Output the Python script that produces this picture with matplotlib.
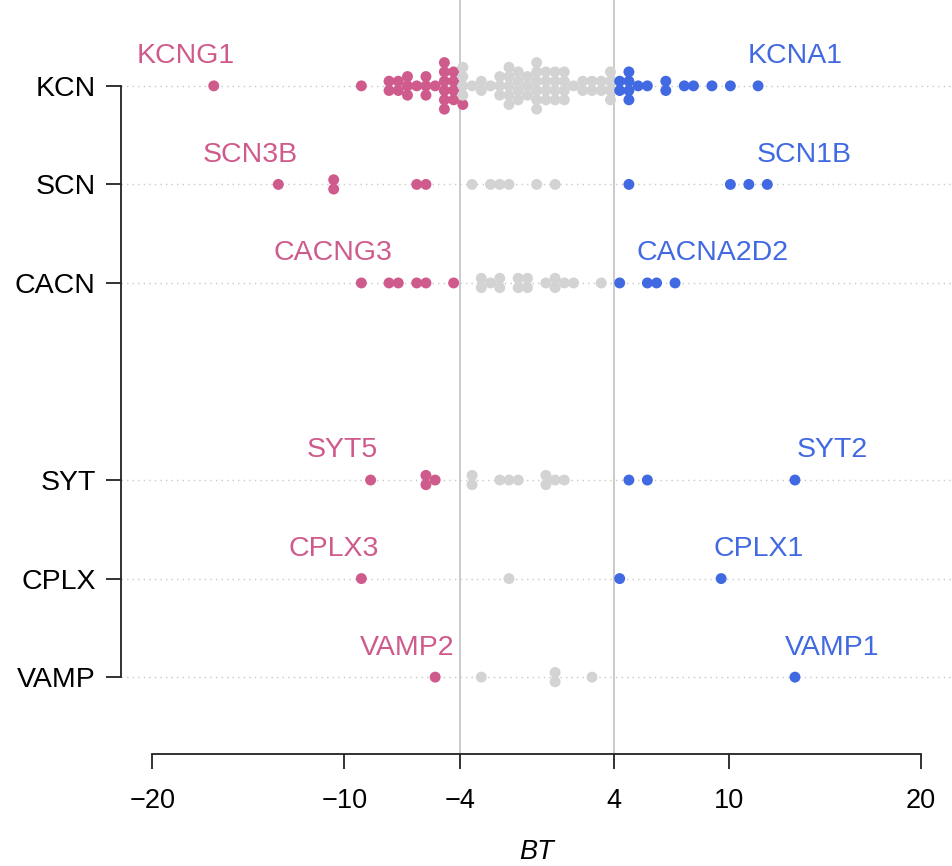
import numpy as np
import matplotlib
matplotlib.use("Agg")
import matplotlib.pyplot as plt
import matplotlib.transforms as mtrans

plt.rcParams['font.family'] = ['Liberation Sans', 'DejaVu Sans']

# ---------------- data ----------------
families = ["KCN", "SCN", "CACN", "SYT", "CPLX", "VAMP"]
family_pos = [6, 5, 4, 2, 1, 0]

kcn_bt = ([-16.86, -9.22, -7.71, -7.71, -7.27, -7.27, -6.75, -6.75, -6.75, -6.27,
           -5.80, -5.80, -5.80, -5.37, -4.85, -4.85, -4.85, -4.85, -4.85, -4.85,
           -4.38, -4.38, -4.38, -4.38, -4.05]
          + [-3.89, -3.89, -3.89, -3.89, -3.46, -2.94, -2.94, -2.45, -1.99, -1.99, -1.99,
             -1.47, -1.47, -1.47, -1.47, -1.47, -1.03, -1.03, -1.03, -1.03,
             -0.51, -0.51, -0.51, -0.04, -0.04, -0.04, -0.04, -0.04, -0.04,
             0.44, 0.44, 0.44, 0.44, 0.87, 0.87, 0.87, 0.87, 1.40, 1.40, 1.40, 1.40,
             1.86, 2.35, 2.35, 2.82, 2.82, 3.30, 3.30, 3.75, 3.75, 3.75, 3.75]
          + [4.31, 4.31, 4.78, 4.78, 4.78, 4.78, 5.30, 5.73, 6.68, 6.68, 7.55, 8.07,
             9.08, 10.03, 11.45])
scn_bt = [-13.48, -10.62, -10.62, -6.28, -5.80, -3.41, -2.45, -1.99, -1.50, -0.04, 0.91,
          4.78, 10.03, 10.98, 11.94]
cacn_bt = [-9.18, -7.74, -7.27, -6.30, -5.84, -4.40,
           -2.94, -2.94, -2.46, -1.99, -1.99, -1.03, -1.03, -0.56, -0.56,
           0.44, 0.87, 0.87, 1.40, 1.86, 3.30,
           4.31, 5.73, 6.20, 7.15]
syt_bt = [-8.71, -5.80, -5.80, -5.33, -3.42, -3.42, -1.99, -1.52, -1.03,
          0.41, 0.41, 0.91, 1.40, 4.78, 5.73, 13.39]
cplx_bt = [-9.18, -1.50, 4.27, 9.54]
vamp_bt = [-5.33, -2.94, 0.91, 0.91, 2.82, 13.36]

family_values = [kcn_bt, scn_bt, cacn_bt, syt_bt, cplx_bt, vamp_bt]
low_labels = ["KCNG1", "SCN3B", "CACNG3", "SYT5", "CPLX3", "VAMP2"]
high_labels = ["KCNA1", "SCN1B", "CACNA2D2", "SYT2", "CPLX1", "VAMP1"]

threshold = 4
x_ticks = [-20, -10, -4, 4, 10, 20]

# ---------------- style ----------------
PINK = "#CF5B8C"
BLUE = "#4169E1"
GREY = "#D3D3D3"
BIN_W = 0.48     # x bin width (dot diameter in x units)
STEP_H = 0.0945  # vertical stacking step (dot diameter in y units)

fig = plt.figure(figsize=(9.52, 8.66), dpi=100)
ax = fig.add_axes([121.5 / 952, 112 / 866, 830.3 / 952, 745 / 866])
ax.set_xlim(-21.6, 21.6)
ax.set_ylim(-0.78, 6.78)

vtrans = mtrans.blended_transform_factory(ax.transData, ax.transAxes)
for xv in (-threshold, threshold):
    ax.plot([xv, xv], [0, 1.015], transform=vtrans, color="#BDBDBD", lw=1.1,
            zorder=1, clip_on=False)

for yv in family_pos:
    ax.plot([-21.6, 21.6], [yv, yv], ls=(0, (1, 3)), color="#C8C8C8", lw=1.0,
            zorder=1)


def center_swarm(values):
    vals = np.sort(np.asarray(values, dtype=float))
    bins = np.round(vals / BIN_W).astype(int)
    xs, offs = [], []
    for b in np.unique(bins):
        members = vals[bins == b]
        n = len(members)
        for i in range(n):
            xs.append(b * BIN_W)
            offs.append((i - (n - 1) / 2) * STEP_H)
    return vals, np.array(xs), np.array(offs)


for vals, yp, lo, hi in zip(family_values, family_pos, low_labels, high_labels):
    v, xs, offs = center_swarm(vals)
    cols = np.where(v < -threshold, PINK, np.where(v > threshold, BLUE, GREY))
    ax.scatter(xs, yp + offs, s=62, c=cols, edgecolors="none", zorder=3)
    ax.text(v.min() - 1.4, yp + 0.30, lo, color=PINK, fontsize=20.5,
            ha="center", va="center")
    ax.text(v.max() + 2.0, yp + 0.30, hi, color=BLUE, fontsize=20.5,
            ha="center", va="center")

for s in ("top", "right"):
    ax.spines[s].set_visible(False)
ax.spines["left"].set_bounds(0, 6)
ax.spines["bottom"].set_bounds(-20, 20)
for s in ("left", "bottom"):
    ax.spines[s].set_linewidth(1.3)
    ax.spines[s].set_color("#222222")

ax.set_yticks(family_pos)
ax.set_yticklabels(families)
ax.set_xticks(x_ticks)
ax.set_xticklabels([("\u2212" + str(-t)) if t < 0 else str(t) for t in x_ticks])
ax.tick_params(axis="both", length=10.5, width=1.3, color="#222222")
ax.tick_params(axis="y", labelsize=20.5, pad=8)
ax.tick_params(axis="x", labelsize=19.5, pad=14)

fig.text(536.5 / 952, 1 - 852 / 866, "BT", fontsize=19.5, style="italic",
         ha="center", va="center")

fig.savefig("out.png", dpi=100)
